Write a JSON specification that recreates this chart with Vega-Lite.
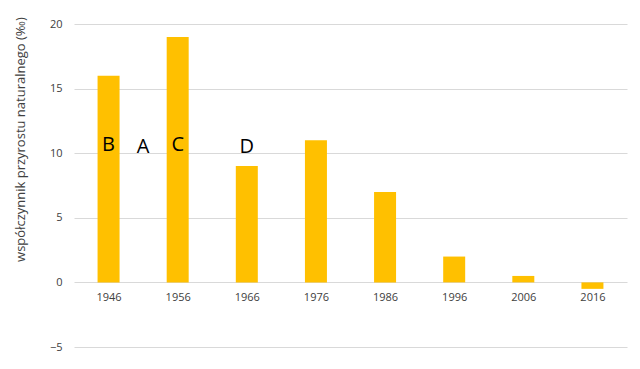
{
  "$schema": "https://vega.github.io/schema/vega-lite/v6.json",
  "width": 553,
  "height": 323,
  "autosize": {"type": "none"},
  "padding": {"left": 74, "top": 24, "right": 13, "bottom": 22},
  "background": "white",
  "config": {
    "view": {"stroke": null},
    "font": "Open Sans"
  },
  "datasets": {
    "bars": [
      {"rok": 1946, "wartosc": 16},
      {"rok": 1956, "wartosc": 19},
      {"rok": 1966, "wartosc": 9},
      {"rok": 1976, "wartosc": 11},
      {"rok": 1986, "wartosc": 7},
      {"rok": 1996, "wartosc": 2},
      {"rok": 2006, "wartosc": 0.5},
      {"rok": 2016, "wartosc": -0.5}
    ],
    "labels": [
      {"rok": 1946, "y": 10.6, "litera": "B"},
      {"rok": 1951, "y": 10.5, "litera": "A"},
      {"rok": 1956, "y": 10.6, "litera": "C"},
      {"rok": 1966, "y": 10.5, "litera": "D"}
    ]
  },
  "layer": [
    {
      "data": {"name": "bars"},
      "mark": {"type": "bar", "size": 22, "color": "#FFC000"},
      "encoding": {
        "x": {
          "field": "rok",
          "type": "quantitative",
          "scale": {"domain": [1941, 2021], "nice": false, "zero": false, "padding": 0},
          "axis": {
            "values": [1946, 1956, 1966, 1976, 1986, 1996, 2006, 2016],
            "format": "d",
            "title": null,
            "grid": false,
            "domain": false,
            "ticks": false,
            "offset": -64,
            "labelPadding": 8,
            "labelFontSize": 11,
            "labelColor": "#404040",
            "labelFlush": false
          }
        },
        "y": {
          "field": "wartosc",
          "type": "quantitative",
          "scale": {"domain": [-5, 20], "nice": false},
          "axis": {
            "values": [-5, 0, 5, 10, 15, 20],
            "title": "współczynnik przyrostu naturalnego (‰)",
            "titleFontSize": 13,
            "titleFontWeight": "normal",
            "titleColor": "#404040",
            "titleX": -54,
            "titleY": 115,
            "titleAngle": -90,
            "titleAlign": "center",
            "titleBaseline": "middle",
            "grid": true,
            "gridColor": "#D9D9D9",
            "domain": false,
            "ticks": false,
            "labelPadding": 12,
            "labelFontSize": 11,
            "labelColor": "#404040"
          }
        }
      }
    },
    {
      "data": {"name": "labels"},
      "mark": {"type": "text", "fontSize": 20, "color": "#000000", "baseline": "middle", "align": "center"},
      "encoding": {
        "x": {"field": "rok", "type": "quantitative"},
        "y": {"field": "y", "type": "quantitative"},
        "text": {"field": "litera"}
      }
    }
  ]
}
